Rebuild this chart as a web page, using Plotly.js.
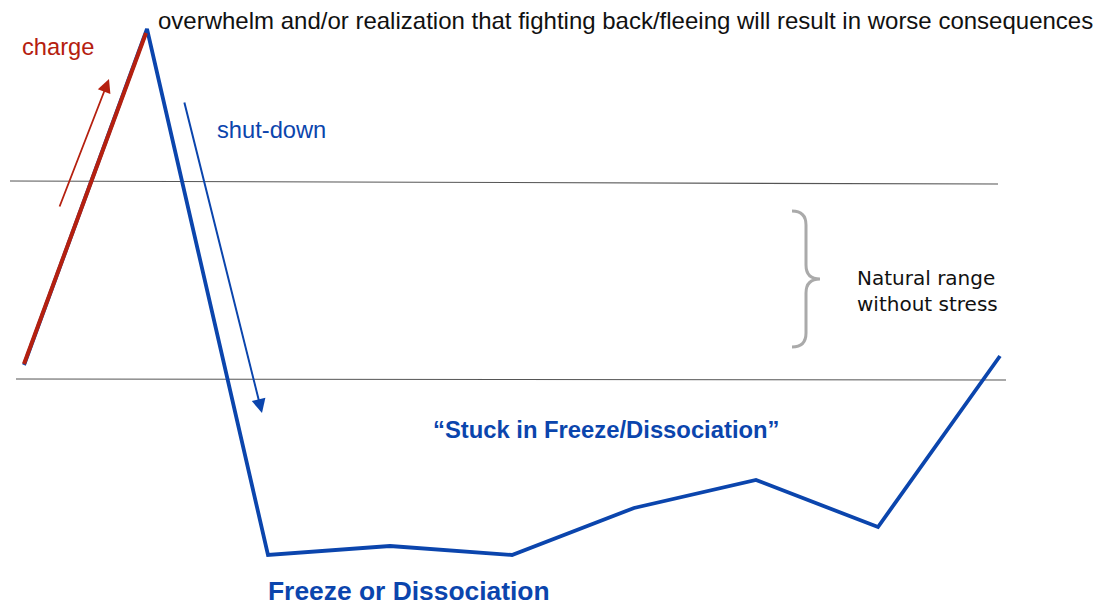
<!DOCTYPE html>
<html>
<head>
<meta charset="utf-8">
<script src="https://cdn.plot.ly/plotly-3.0.1.min.js"></script>
<style>html,body{margin:0;padding:0;background:#fff;}#chart{width:1097px;height:605px;}</style>
</head>
<body>
<div id="chart"></div>
<script>
// Stress-response path (blue), in diagram units (x right, y down)
const blueX = [24, 147, 268, 390, 512, 634, 756, 878, 1000];
const blueY = [365, 29, 555, 546, 555, 508, 480, 527, 356];
// Charge segment (red) overlaid on the rise
const redX = [24, 146];
const redY = [364, 33];
// Boundaries of the natural range
const upperBoundX = [10, 998];
const upperBoundY = [181, 184];
const lowerBoundX = [16, 1006];
const lowerBoundY = [379, 380];
// Labels
const labelCharge = "charge";
const labelPeak = "overwhelm and/or realization that fighting back/fleeing will result in worse consequences";
const labelShut = "shut-down";
const labelRange = "Natural range<br>without stress";
const labelStuck = "\u201cStuck in Freeze/Dissociation\u201d";
const labelFreeze = "Freeze or Dissociation";

const BLUE = "#0b45ad";
const RED = "#b5200f";
const GRAY = "#555555";

const traces = [
  {x: upperBoundX, y: upperBoundY, mode: "lines", line: {color: GRAY, width: 1.2}, hoverinfo: "skip"},
  {x: lowerBoundX, y: lowerBoundY, mode: "lines", line: {color: GRAY, width: 1.2}, hoverinfo: "skip"},
  {x: blueX, y: blueY, mode: "lines", line: {color: BLUE, width: 3.8}, hoverinfo: "skip"},
  {x: redX, y: redY, mode: "lines", line: {color: RED, width: 4}, hoverinfo: "skip"}
];

const font = "Liberation Sans, Arial, sans-serif";
const annotations = [
  // red charge arrow
  {x: 109, y: 79, ax: 59, ay: 208, xref: "x", yref: "y", axref: "x", ayref: "y",
   showarrow: true, arrowhead: 2, arrowsize: 1.5, arrowwidth: 1.8, arrowcolor: RED, text: ""},
  // blue shut-down arrow
  {x: 262, y: 413, ax: 184, ay: 101, xref: "x", yref: "y", axref: "x", ayref: "y",
   showarrow: true, arrowhead: 2, arrowsize: 1.4, arrowwidth: 2, arrowcolor: BLUE, text: ""},
  {x: 58, y: 47, xref: "x", yref: "y", text: labelCharge, showarrow: false,
   font: {family: font, size: 23.7, color: RED}},
  {x: 156, y: 20, xref: "x", yref: "y", xanchor: "left", text: labelPeak, showarrow: false,
   font: {family: font, size: 24, color: "#111111"}},
  {x: 215, y: 130, xref: "x", yref: "y", xanchor: "left", text: labelShut, showarrow: false,
   font: {family: font, size: 23.7, color: BLUE}},
  {x: 855, y: 291, xref: "x", yref: "y", xanchor: "left", align: "left", text: labelRange, showarrow: false,
   font: {family: "DejaVu Sans, sans-serif", size: 20, color: "#111111"}},
  {x: 606, y: 429, xref: "x", yref: "y", text: "<b>" + labelStuck + "</b>", showarrow: false,
   font: {family: font, size: 23.8, color: BLUE}},
  {x: 409, y: 590.5, xref: "x", yref: "y", text: "<b>" + labelFreeze + "</b>", showarrow: false,
   font: {family: font, size: 26.4, color: BLUE}}
];

const shapes = [
  // curly brace
  {type: "path", xref: "x", yref: "y",
   path: "M 792 211 Q 806 211 806 225 L 806 265 Q 806 279 820 279 Q 806 279 806 293 L 806 333 Q 806 347 792 347",
   line: {color: "#aaaaaa", width: 3}}
];

const layout = {
  width: 1097, height: 605,
  margin: {l: 0, r: 0, t: 0, b: 0},
  paper_bgcolor: "#ffffff", plot_bgcolor: "#ffffff",
  showlegend: false,
  xaxis: {range: [0, 1097], visible: false, fixedrange: true},
  yaxis: {range: [605, 0], visible: false, fixedrange: true},
  annotations: annotations,
  shapes: shapes
};

Plotly.newPlot("chart", traces, layout, {displayModeBar: false, staticPlot: true});
</script>
</body>
</html>
